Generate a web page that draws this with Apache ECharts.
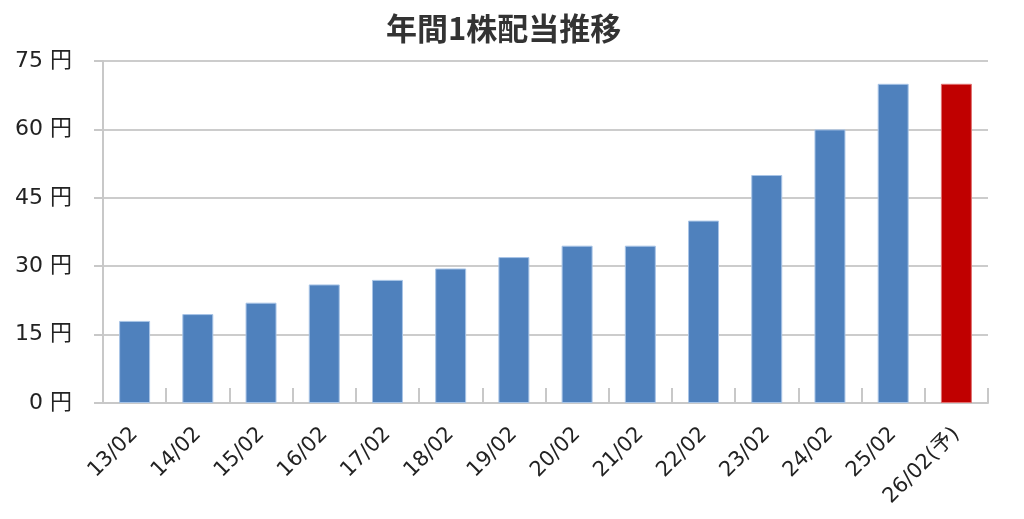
<!DOCTYPE html>
<html><head><meta charset="utf-8">
<script src="https://cdn.jsdelivr.net/npm/echarts@6/dist/echarts.min.js"></script>
<style>html,body{margin:0;padding:0;background:#fff}#c{width:1024px;height:519px}</style>
</head><body><div id="c"></div>
<script>
const title = '年間1株配当推移';
const categories = ['13/02','14/02','15/02','16/02','17/02','18/02','19/02','20/02','21/02','22/02','23/02','24/02','25/02','26/02(予)'];
const dividends = [18, 19.5, 22, 26, 27, 29.5, 32, 34.5, 34.5, 40, 50, 60, 70, 70];
const forecast = [false,false,false,false,false,false,false,false,false,false,false,false,false,true];
const yTicks = [0, 15, 30, 45, 60, 75];

const chart = echarts.init(document.getElementById('c'), null, {renderer:'canvas'});
const latin = 'DejaVu Sans, "Noto Sans CJK JP", sans-serif';
chart.setOption({
  animation: false,
  backgroundColor: '#fff',
  title: {
    text: title, left: 381, top: 8,
    textStyle: {fontFamily: '"Noto Sans CJK JP", sans-serif', fontWeight: 'bold', fontSize: 31, color: '#333'}
  },
  grid: {left: 103, right: 36, top: 61, bottom: 116, containLabel: false},
  xAxis: {
    type: 'category', data: categories,
    axisLine: {show: true, lineStyle: {color: '#c8c8c8', width: 2}},
    axisTick: {show: true, inside: true, length: 15, lineStyle: {color: '#c8c8c8', width: 2}},
    axisLabel: {rotate: 45, margin: 28, fontSize: 21, color: '#222', fontFamily: latin, interval: 0}
  },
  yAxis: {
    type: 'value', min: yTicks[0], max: yTicks[yTicks.length-1], interval: 15,
    axisLine: {show: true, lineStyle: {color: '#c8c8c8', width: 2}},
    axisTick: {show: true, inside: false, length: 9, lineStyle: {color: '#c8c8c8', width: 2}},
    splitLine: {show: true, lineStyle: {color: '#cccccc', width: 2}},
    axisLabel: {margin: 31, fontSize: 22, color: '#222', fontFamily: latin, formatter: v => v + ' 円'}
  },
  series: [{
    type: 'bar',
    barCategoryGap: '51%',
    data: dividends.map((v, i) => ({
      value: v,
      itemStyle: forecast[i]
        ? {color: '#c00000', borderColor: '#e07070', borderWidth: 1}
        : {color: '#4f81bd', borderColor: '#a8c4e6', borderWidth: 1}
    }))
  }]
});
</script></body></html>
